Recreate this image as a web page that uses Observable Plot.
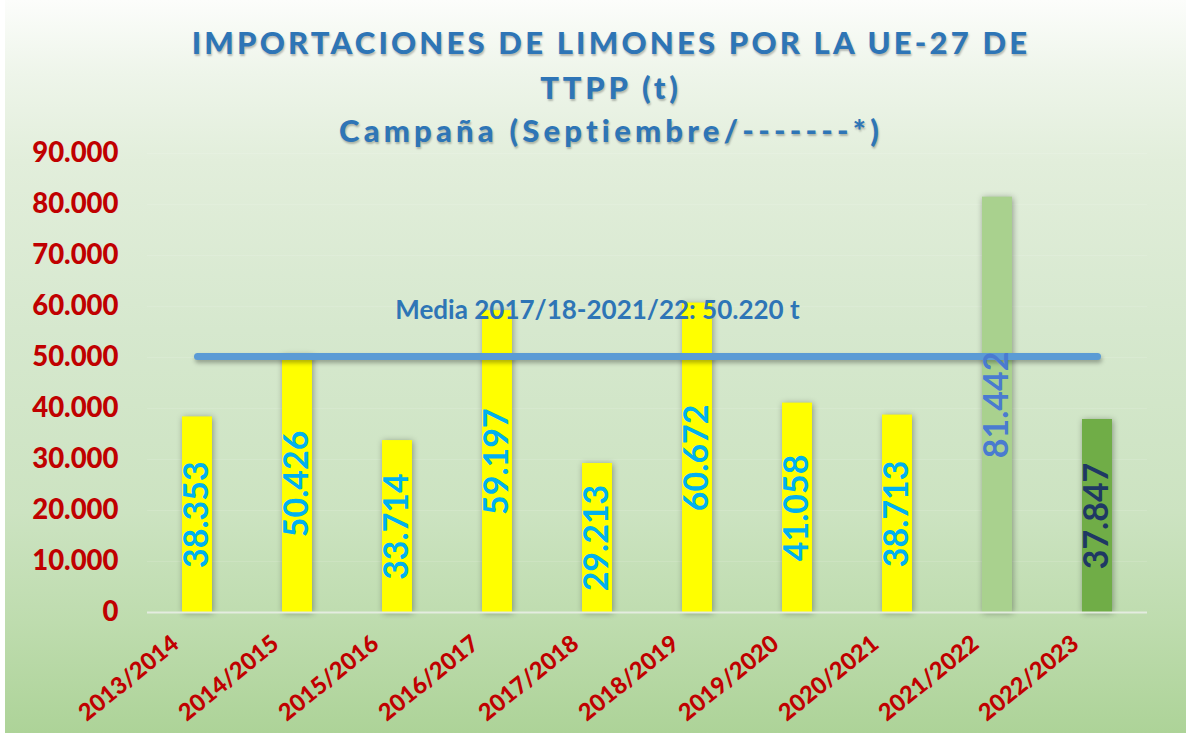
<!DOCTYPE html>
<html>
<head>
<meta charset="utf-8">
<script src="https://cdn.jsdelivr.net/npm/d3@7"></script>
<script src="https://cdn.jsdelivr.net/npm/@observablehq/plot@0.6"></script>
<style>
  html, body { margin: 0; padding: 0; }
  #wrap {
    position: relative; width: 1186px; height: 733px; overflow: hidden;
    box-sizing: border-box; border-left: 5px solid #ffffff;
    background: linear-gradient(to bottom, #FCFDFB 0%, #EEF5EA 10%, #E2EEDB 22%, #D6E8CE 45%, #CCE3C1 70%, #BEDCAE 85%, #ADD398 100%);
    font-family: Lato, "Open Sans", sans-serif;
  }
  .t {
    position: absolute; left: 13px; width: 1186px; text-align: center;
    color: #2E75B6; font-weight: 900; line-height: 44px; white-space: nowrap;
    text-shadow: 1px 2px 2px rgba(0,0,0,0.25);
  }
  #chart { position: absolute; left: -5px; top: 140px; }
</style>
</head>
<body>
<div id="wrap">
  <div class="t" id="t1" style="top:20px;font-size:31px;letter-spacing:3.2px;">IMPORTACIONES DE LIMONES POR LA UE-27 DE</div>
  <div class="t" id="t2" style="top:65px;font-size:31px;letter-spacing:3.8px;">TTPP (t)</div>
  <div class="t" id="t3" style="top:108px;font-size:31px;letter-spacing:4.2px;">Campaña (Septiembre/-------*)</div>
  <div id="chart"></div>
</div>
<script>
const categories = ["2013/2014", "2014/2015", "2015/2016", "2016/2017", "2017/2018",
                    "2018/2019", "2019/2020", "2020/2021", "2021/2022", "2022/2023"];
const values = [38353, 50426, 33714, 59197, 29213, 60672, 41058, 38713, 81442, 37847];
const mediaValue = 50220;
const mediaFrom = "2013/2014";
const mediaTo = "2022/2023";
const mediaLabel = "Media 2017/18-2021/22: 50.220 t";
const yTicks = [0, 10000, 20000, 30000, 40000, 50000, 60000, 70000, 80000, 90000];

const fmt = d3.formatLocale({decimal: ",", thousands: ".", grouping: [3], currency: ["", ""]}).format(",d");

const data = categories.map((c, i) => ({season: c, value: values[i]}));
const mediaPts = [{season: mediaFrom, value: mediaValue}, {season: mediaTo, value: mediaValue}];

const barFill = d => d.season === "2021/2022" ? "#A9D18E" : d.season === "2022/2023" ? "#70AD47" : "#FFFF00";
const labelFill = d => d.season === "2021/2022" ? "#4A7BD0" : d.season === "2022/2023" ? "#1F3864" : "#00B0F0";

const chart = Plot.plot({
  width: 1186,
  height: 593,
  marginLeft: 147,
  marginRight: 39,
  marginTop: 13,
  marginBottom: 121,
  style: {background: "transparent", fontFamily: "Lato, 'Open Sans', sans-serif", overflow: "visible"},
  x: {domain: categories, paddingInner: 0.7, paddingOuter: 0.35, axis: null},
  y: {domain: [0, 90000]},
  marks: [
    Plot.ruleY(yTicks.slice(1), {stroke: "#ffffff", strokeOpacity: 0.12}),
    Plot.barY(data, {x: "season", y: "value", fill: barFill}),
    Plot.ruleY([0], {stroke: "#E4ECE0", strokeWidth: 2}),
    Plot.line(mediaPts, {x: "season", y: "value", stroke: "#5B9BD5", strokeWidth: 7, strokeLinecap: "round"}),
    Plot.text(data, {x: "season", y: d => d.value / 2, text: d => fmt(d.value), rotate: -90,
      fill: labelFill, fontSize: 34, fontWeight: "bold"}),
    Plot.text([mediaLabel], {x: () => "2017/2018", y: () => mediaValue, text: d => d, dy: -46,
      fill: "#2E75B6", fontSize: 26, fontWeight: "bold"}),
    Plot.axisY(yTicks, {label: null, tickSize: 0, tickPadding: 29, tickFormat: fmt, fontSize: 27.5,
      fontWeight: 900, color: "#C00000"}),
    Plot.text(categories, {x: d => d, frameAnchor: "bottom", rotate: -39, textAnchor: "end",
      lineAnchor: "middle", dx: -22, dy: 28, fill: "#C00000", fontSize: 23.5, fontWeight: 900})
  ]
});

chart.querySelectorAll('g[aria-label="bar"]').forEach(g => g.style.filter = "drop-shadow(1px 1px 3px rgba(0,0,0,0.35))");
chart.querySelectorAll('g[aria-label="line"]').forEach(g => g.style.filter = "drop-shadow(1px 3px 2px rgba(0,0,0,0.3))");
document.getElementById("chart").appendChild(chart);
</script>
</body>
</html>
